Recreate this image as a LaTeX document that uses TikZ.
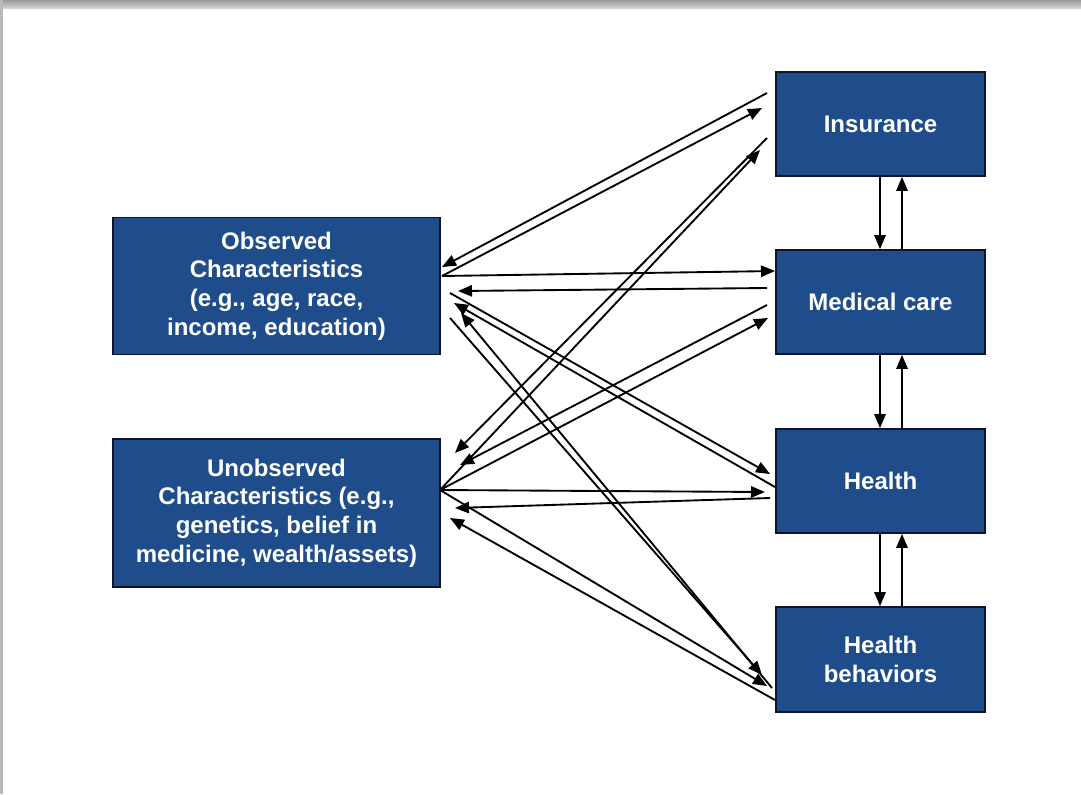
\documentclass[tikz,border=0pt]{standalone}
\usepackage{fontspec}
\setmainfont{Liberation Sans}
\usetikzlibrary{arrows.meta}
\definecolor{boxblue}{RGB}{31,76,138}
\definecolor{boxedge}{RGB}{12,22,40}
\begin{document}
\begin{tikzpicture}[x=0.75pt,y=-0.75pt,
  box/.style={draw=boxedge, line width=1.3pt, fill=boxblue, text=white,
    font=\fontsize{18}{21.5}\selectfont\bfseries, align=center, inner sep=0pt},
  rbox/.style={box, minimum width=156.75pt, minimum height=78pt},
  lbox/.style={box, minimum width=245.25pt},
  arr/.style={-{Triangle[length=10.5pt,width=8.5pt]}, line width=1.4pt, black}]
\path[use as bounding box] (0,0) rectangle (1081,794);
\fill[white] (0,0) rectangle (1081,794);
\fill[top color=gray!80, bottom color=gray!35] (0,0) rectangle (1081,8);
\fill[gray!55] (0,0) rectangle (3,794);

% boxes
\node[rbox] (ins) at (880.5,124) {Insurance};
\node[rbox] (med) at (880.5,302) {Medical care};
\node[rbox] (hea) at (880.5,481) {Health};
\node[rbox, minimum height=78.75pt] (beh) at (880.5,659.5) {Health\\behaviors};
\node[lbox, minimum height=102.75pt] (obs) at (276.5,286) {Observed\\Characteristics\\(e.g., age, race,\\income, education)};
\node[lbox, minimum height=111pt] (uno) at (276.5,513) {Unobserved\\Characteristics (e.g.,\\genetics, belief in\\medicine, wealth/assets)};

% connector end points
\coordinate (o1) at (442,267);  \coordinate (i1) at (767,93);
\coordinate (o2) at (442,276);  \coordinate (i2) at (762,108);
\coordinate (m3) at (775,271);
\coordinate (m4) at (767,288);  \coordinate (o4) at (458,291);
\coordinate (i5) at (767,138);  \coordinate (u5) at (455,453);
\coordinate (u6) at (440,490);  \coordinate (i6) at (760,150);
\coordinate (m7) at (767,305);  \coordinate (u7) at (460,465);
\coordinate (m8) at (768,318);
\coordinate (o9) at (450,293);  \coordinate (h9) at (770,474);
\coordinate (h10) at (775,487); \coordinate (o10) at (454,303);
\coordinate (b11) at (772,688); \coordinate (o11) at (461,313);
\coordinate (o12) at (450,318); \coordinate (b12) at (762,675);
\coordinate (b13) at (767,686);
\coordinate (b14) at (775,700); \coordinate (u14) at (450,518);
\coordinate (h15) at (765,492);
\coordinate (h16) at (770,498); \coordinate (u16) at (455,508);

% left-right connectors
\draw[arr] (i1) -- (o1);
\draw[arr] (o2) -- (i2);
\draw[arr] (o2) -- (m3);
\draw[arr] (m4) -- (o4);
\draw[arr] (i5) -- (u5);
\draw[arr] (u6) -- (i6);
\draw[arr] (m7) -- (u7);
\draw[arr] (u6) -- (m8);
\draw[arr] (o9) -- (h9);
\draw[arr] (h10) -- (o10);
\draw[arr] (b11) -- (o11);
\draw[arr] (o12) -- (b12);
\draw[arr] (u6) -- (b13);
\draw[arr] (b14) -- (u14);
\draw[arr] (u6) -- (h15);
\draw[arr] (h16) -- (u16);

% vertical connectors
\draw[arr] (880,0 |- ins.south) -- (880,0 |- med.north);
\draw[arr] (902,0 |- med.north) -- (902,0 |- ins.south);
\draw[arr] (880,0 |- med.south) -- (880,0 |- hea.north);
\draw[arr] (902,0 |- hea.north) -- (902,0 |- med.south);
\draw[arr] (880,0 |- hea.south) -- (880,0 |- beh.north);
\draw[arr] (902,0 |- beh.north) -- (902,0 |- hea.south);
\end{tikzpicture}
\end{document}
